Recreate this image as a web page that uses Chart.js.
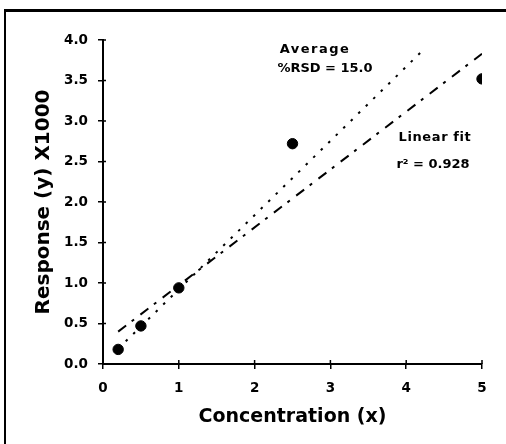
<!DOCTYPE html>
<html>
<head>
<meta charset="utf-8">
<script src="https://cdn.jsdelivr.net/npm/chart.js@4/dist/chart.umd.min.js"></script>
<style>
  html, body { margin: 0; padding: 0; background: #fff; }
  #wrap { position: relative; width: 506px; height: 444px; overflow: hidden; }
  #frame { position: absolute; left: 4px; top: 9px; width: 600px; height: 600px;
           border-left: 2px solid #000; border-top: 3px solid #000; pointer-events: none; }
</style>
</head>
<body>
<div id="wrap">
  <canvas id="chart" width="506" height="444"></canvas>
  <div id="frame"></div>
</div>
<script>
/* Data */
const concentration = [0.2, 0.5, 1, 2.5, 5];
const response = [0.18, 0.47, 0.94, 2.72, 3.52];
// linear fit line (dash-dot), end points
const fitX = [0.2, 5];
const fitY = [0.40, 3.83];
// average response factor line (dotted), end points
const avgX = [0.3, 4.25];
const avgY = [0.28, 3.90];
const xTickLabels = ['0', '1', '2', '3', '4', '5'];
const yTickLabels = ['0.0', '0.5', '1.0', '1.5', '2.0', '2.5', '3.0', '3.5', '4.0'];
const avgLabel = ['Average', '%RSD = 15.0'];
const fitLabel = ['Linear fit', 'r\u00B2 = 0.928'];

Chart.defaults.font.family = '"DejaVu Sans", sans-serif';
Chart.defaults.color = '#000';

function toPoints(xs, ys) {
  return xs.map((x, i) => ({x: x, y: ys[i]}));
}

// inner half of the tick marks + the two text notes
const extras = {
  id: 'extras',
  afterDraw(chart) {
    const {ctx, scales: {x, y}} = chart;
    ctx.save();
    ctx.strokeStyle = '#000';
    ctx.lineWidth = 1.5;
    ctx.beginPath();
    x.ticks.forEach(t => {
      const px = x.getPixelForValue(t.value);
      ctx.moveTo(px, y.bottom);
      ctx.lineTo(px, y.bottom - 4);
    });
    y.ticks.forEach(t => {
      const py = y.getPixelForValue(t.value);
      ctx.moveTo(x.left, py);
      ctx.lineTo(x.left + 3, py);
    });
    ctx.stroke();

    ctx.fillStyle = '#000';
    ctx.textAlign = 'center';
    ctx.textBaseline = 'alphabetic';
    ctx.font = 'bold 13px "DejaVu Sans"';
    ctx.letterSpacing = '1.5px';
    ctx.fillText(avgLabel[0], 315, 53);
    ctx.letterSpacing = '0px';
    ctx.fillText(avgLabel[1], 325, 72);
    ctx.letterSpacing = '0.6px';
    ctx.fillText(fitLabel[0], 435, 141);
    ctx.letterSpacing = '0px';
    ctx.fillText(fitLabel[1], 433, 168);
    ctx.restore();
  }
};

new Chart('chart', {
  type: 'scatter',
  data: {
    datasets: [
      {
        data: toPoints(concentration, response),
        pointRadius: 5.2,
        pointBackgroundColor: '#000',
        pointBorderColor: '#000',
        showLine: false
      },
      {
        data: toPoints(fitX, fitY),
        showLine: true,
        pointRadius: 0,
        borderColor: '#000',
        borderWidth: 2,
        borderDash: [10, 7, 3, 8]
      },
      {
        data: toPoints(avgX, avgY),
        showLine: true,
        pointRadius: 0,
        borderColor: '#000',
        borderWidth: 2,
        borderDash: [2.5, 8]
      }
    ]
  },
  options: {
    responsive: false,
    animation: false,
    layout: {padding: {left: 0, right: 24, top: 40, bottom: 0}},
    plugins: {legend: {display: false}, tooltip: {enabled: false}},
    scales: {
      x: {
        type: 'linear',
        min: 0,
        max: 5,
        afterFit: (s) => { s.height = 80; },
        border: {display: true, color: '#000', width: 2},
        grid: {drawOnChartArea: false, tickLength: 5, color: '#000', lineWidth: 1.5},
        ticks: {
          stepSize: 1,
          padding: 11,
          font: {size: 13.5, weight: 'bold'},
          callback: (v, i) => xTickLabels[i]
        },
        title: {
          display: true,
          text: 'Concentration (x)',
          font: {size: 19, weight: 'bold'},
          padding: {top: 0, bottom: 16}
        }
      },
      y: {
        min: 0,
        max: 4,
        afterFit: (s) => { s.width = 103; },
        border: {display: true, color: '#000', width: 2},
        grid: {drawOnChartArea: false, tickLength: 5, color: '#000', lineWidth: 1.5},
        ticks: {
          stepSize: 0.5,
          padding: 10,
          font: {size: 13.5, weight: 'bold'},
          callback: (v, i) => yTickLabels[i]
        },
        title: {
          display: true,
          text: 'Response (y) X1000',
          font: {size: 20, weight: 'bold'},
          padding: {top: 32, bottom: 0}
        }
      }
    }
  },
  plugins: [extras]
});
</script>
</body>
</html>
